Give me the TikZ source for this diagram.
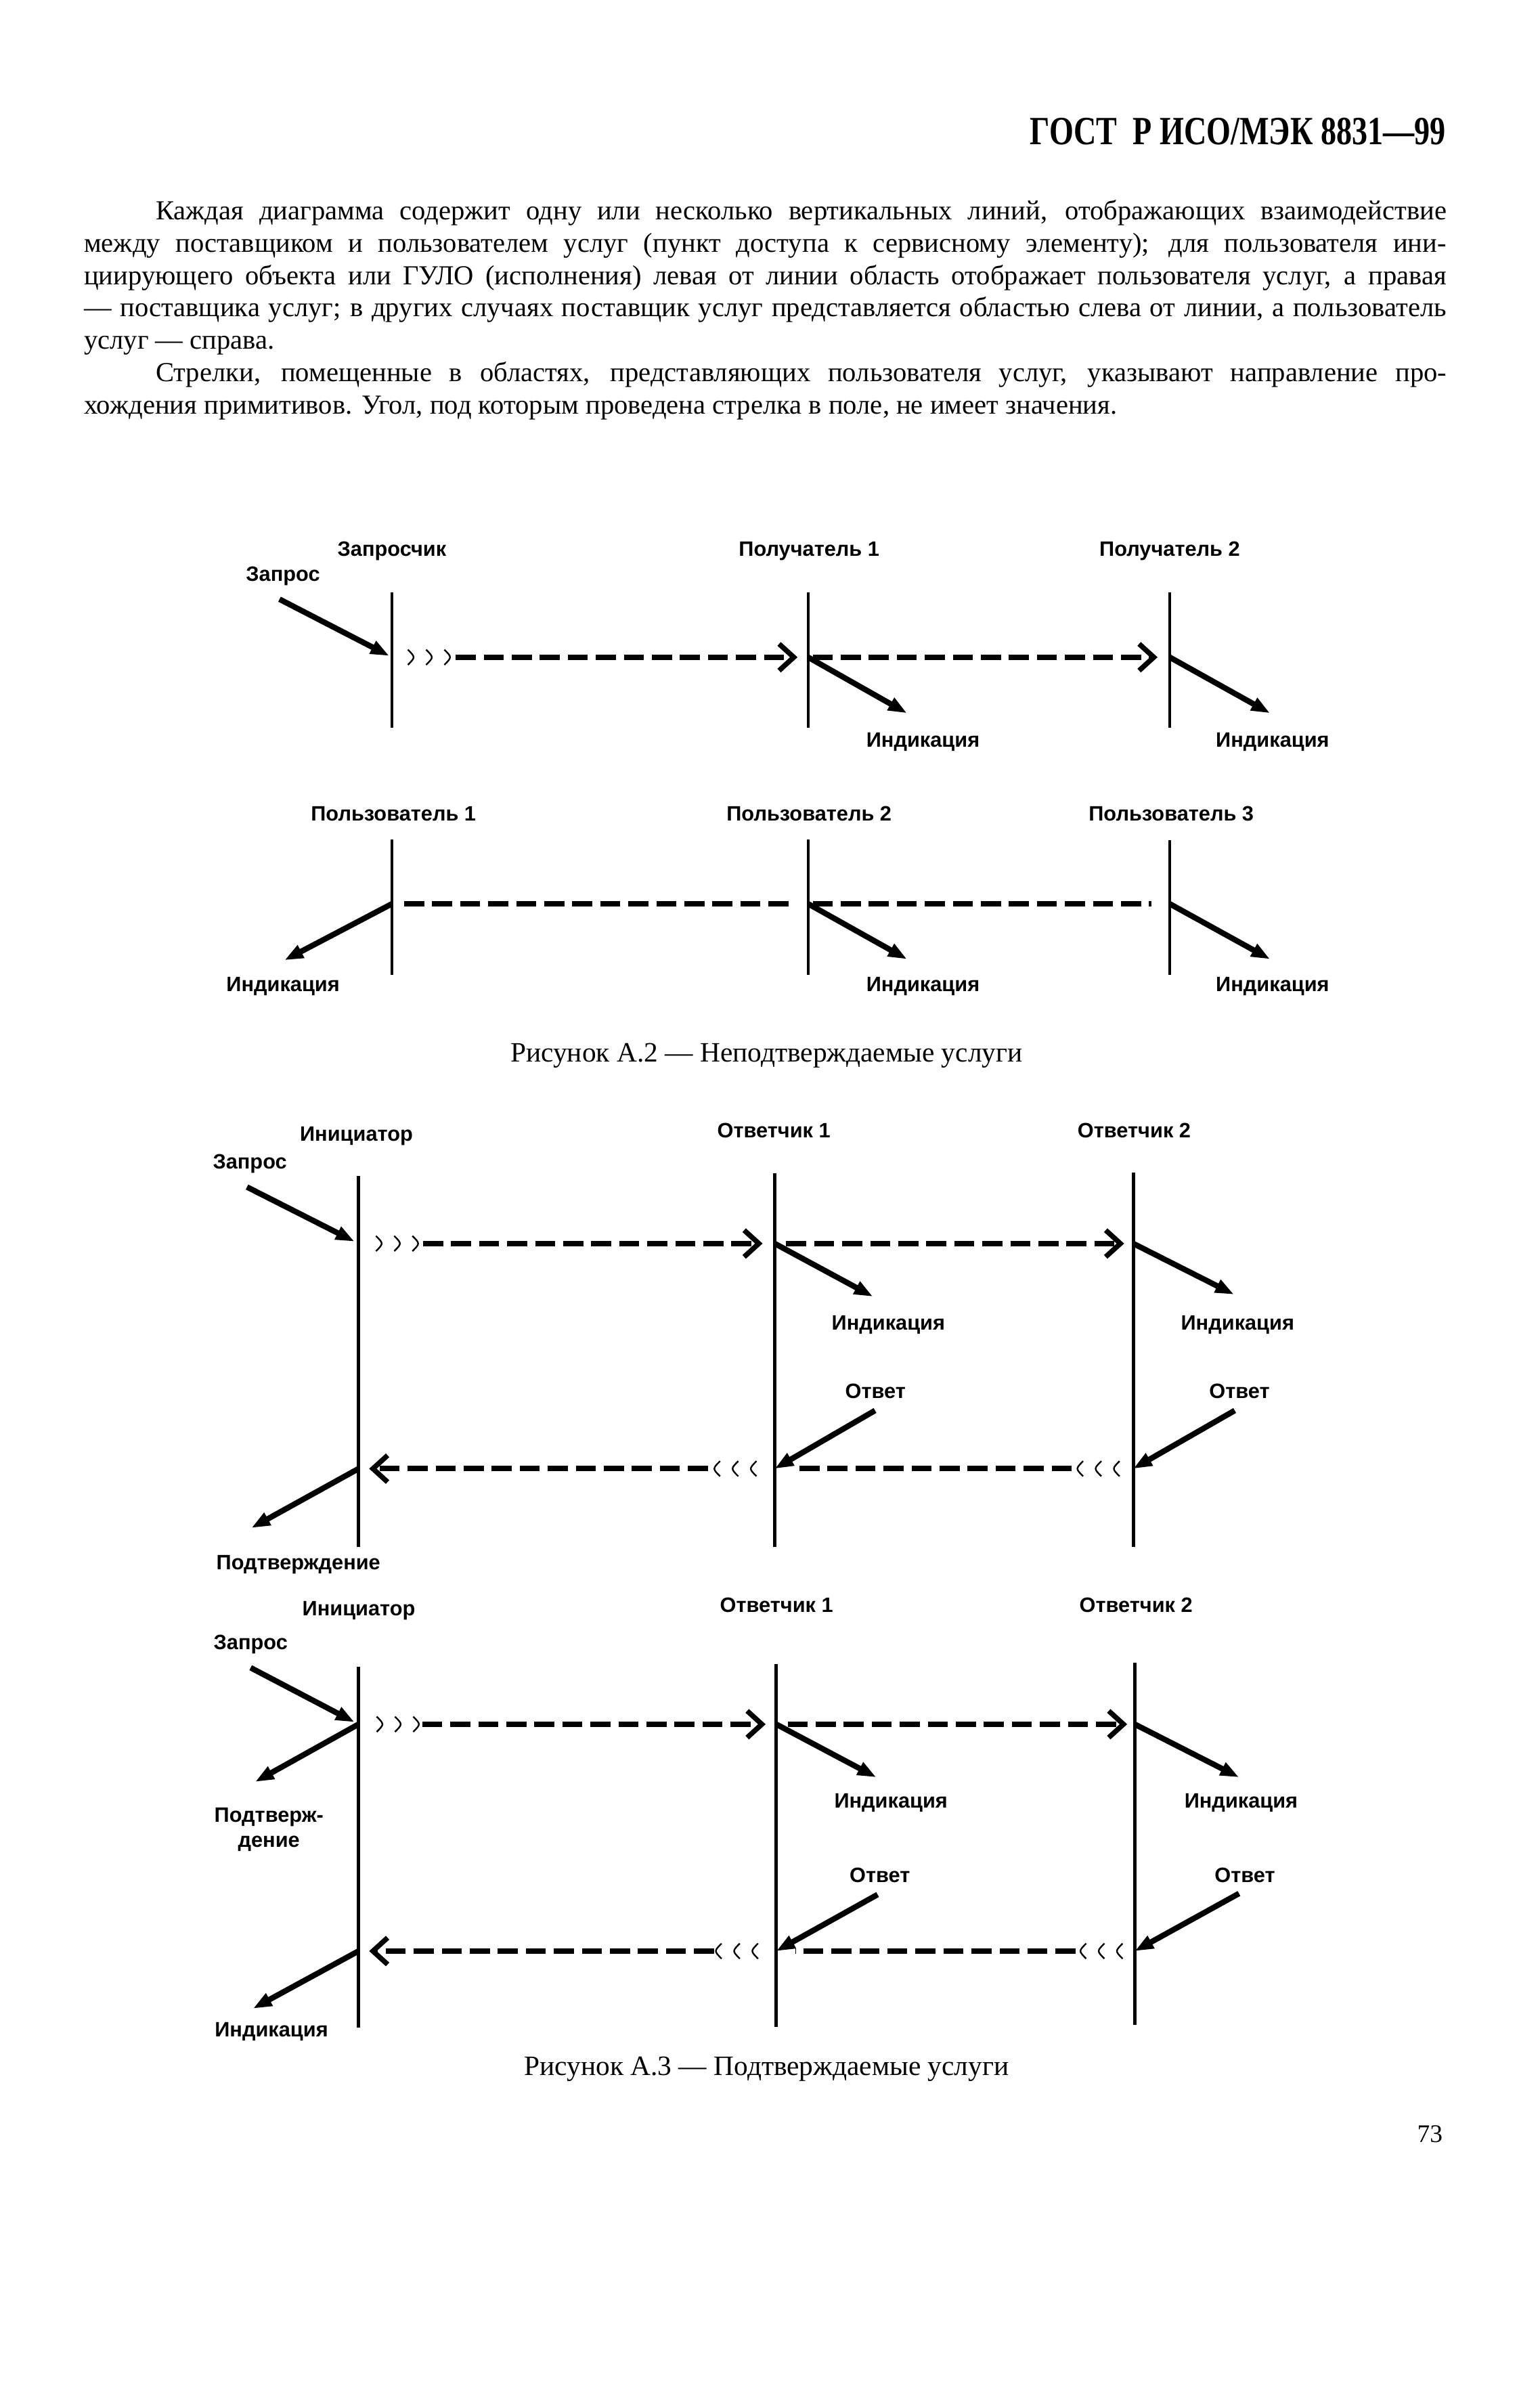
\documentclass[tikz,border=0pt]{standalone}
\usepackage{fontspec}
\setmainfont{Liberation Serif}
\setsansfont{Liberation Sans}
\newfontfamily\headfont[FakeStretch=0.78]{Liberation Serif}
\usetikzlibrary{arrows.meta}

\tikzset{
  lifeline/.style={line width=1.2pt},
  prim/.style={line width=2.1pt, -{Triangle[length=7pt,width=5pt]}},
  flow/.style={line width=2pt, dash pattern=on 7.5pt off 3pt},
  flowhead/.style={flow, -{Straight Barb[length=5.5pt,width=10pt,line width=1.9pt]}},
  wave/.style={line width=0.6pt},
  lbl/.style={font=\sffamily\bfseries\fontsize{7.8}{9.4}\selectfont, inner sep=0pt, anchor=base},
  txt/.style={font=\fontsize{10.3}{12}\selectfont, inner sep=0pt, anchor=base west},
  capt/.style={font=\fontsize{10.5}{12}\selectfont, inner sep=0pt, anchor=base},
}

% three small arcs ))) and (((
\newcommand{\fwdwaves}[2]{\foreach \k in {0,1,2}{\draw[wave] ({#1+12*\k},#2-5) .. controls ({#1+12*\k+5},#2) .. ({#1+12*\k},#2+5);}}
\newcommand{\backwaves}[2]{\foreach \k in {0,1,2}{\draw[wave] ({#1+12*\k},#2-5) .. controls ({#1+12*\k-5},#2) .. ({#1+12*\k},#2+5);}}

\begin{document}
\begin{tikzpicture}[x=0.02cm, y=-0.02cm]
\fill[white, use as bounding box] (0,0) rectangle (1013.4,1567.2);

\def\xl{55}    % left margin
\def\xi{102.2} % indent
\def\xr{952}   % right margin

% page head and text
\node[anchor=base east, inner sep=0pt, font=\headfont\bfseries\fontsize{15}{18}\selectfont] (head) at (\xr,95) {ГОСТ\ \ Р ИСО/МЭК 8831—99};

\node[txt] (pa1) at (\xi,144.8) {\makebox[17cm][s]{Каждая диаграмма содержит одну или несколько вертикальных линий, отображающих взаимодействие}};
\node[txt] (pa2) at (\xl,166.0) {\makebox[17.94cm][s]{между поставщиком и пользователем услуг (пункт доступа к сервисному элементу); для пользователя ини-}};
\node[txt] (pa3) at (\xl,187.3) {\makebox[17.94cm][s]{циирующего объекта или ГУЛО (исполнения) левая от линии область отображает пользователя услуг, а правая}};
\node[txt] (pa4) at (\xl,208.5) {\makebox[17.94cm][s]{— поставщика услуг; в других случаях поставщик услуг представляется областью слева от линии, а пользователь}};
\node[txt] (pa5) at (\xl,229.8) {услуг — справа.};
\node[txt] (pb1) at (\xi,251.0) {\makebox[17cm][s]{Стрелки, помещенные в областях, представляющих пользователя услуг, указывают направление про-}};
\node[txt] (pb2) at (\xl,272.3) {хождения примитивов. Угол, под которым проведена стрелка в поле, не имеет значения.};

% Figure A.2, upper part
\def\ya{432.6}
\coordinate (a1t) at (258,389.9); \coordinate (a1b) at (258,479);
\coordinate (a2t) at (532,389.9); \coordinate (a2b) at (532,479);
\coordinate (a3t) at (770,389.9); \coordinate (a3b) at (770,479);
\coordinate (a1m) at (258,\ya);
\coordinate (a2m) at (532,\ya);
\coordinate (a3m) at (770,\ya);
\coordinate (aq) at (184,394.4);
\coordinate (ai2) at (597,469.4);
\coordinate (ai3) at (836,469.4);

\draw[lifeline] (a1t) -- (a1b);
\draw[lifeline] (a2t) -- (a2b);
\draw[lifeline] (a3t) -- (a3b);

\draw[prim, shorten >=0.04cm] (aq) -- (a1m);
\fwdwaves{268.5}{\ya}
\draw[flowhead, shorten <=0.84cm, shorten >=0.14cm] (a1m) -- (a2m);
\draw[flowhead, shorten <=0.06cm, shorten >=0.16cm] (a2m) -- (a3m);
\draw[prim] (a2m) -- (ai2);
\draw[prim] (a3m) -- (ai3);

\node[lbl] (asend) at (258,366.2) {Запросчик};
\node[lbl] (areq) at (186.3,382.5) {Запрос};
\node[lbl] (arcv1) at (532.6,366.2) {Получатель 1};
\node[lbl] (arcv2) at (770,366.2) {Получатель 2};
\node[lbl] (aind2) at (607.6,491.7) {Индикация};
\node[lbl] (aind3) at (837.7,491.7) {Индикация};

% Figure A.2, lower part
\def\yb{594.9}
\coordinate (b1t) at (258,552.6); \coordinate (b1b) at (258,641.7);
\coordinate (b2t) at (532,552.6); \coordinate (b2b) at (532,641.7);
\coordinate (b3t) at (770,553); \coordinate (b3b) at (770,641.7);
\coordinate (b1m) at (258,\yb);
\coordinate (b2m) at (532,\yb);
\coordinate (b3m) at (770,\yb);
\coordinate (bi1) at (187.3,632);
\coordinate (bi2) at (597,631.3);
\coordinate (bi3) at (836,631.3);

\draw[lifeline] (b1t) -- (b1b);
\draw[lifeline] (b2t) -- (b2b);
\draw[lifeline] (b3t) -- (b3b);

\draw[flow, shorten <=0.16cm, shorten >=0.23cm] (b1m) -- (b2m);
\draw[flow, shorten <=0.06cm, shorten >=0.24cm] (b2m) -- (b3m);
\draw[prim] (b1m) -- (bi1);
\draw[prim] (b2m) -- (bi2);
\draw[prim] (b3m) -- (bi3);

\node[lbl] (busr1) at (259,540.4) {Пользователь 1};
\node[lbl] (busr2) at (532.6,540.4) {Пользователь 2};
\node[lbl] (busr3) at (771,540.4) {Пользователь 3};
\node[lbl] (bind1) at (186.3,652.8) {Индикация};
\node[lbl] (bind2) at (607.6,652.8) {Индикация};
\node[lbl] (bind3) at (837.7,652.8) {Индикация};

\node[capt] (capa) at (504.6,699) {Рисунок А.2 — Неподтверждаемые услуги};

% Figure A.3, upper part
\def\yc{818.5}
\def\ycr{966.7}
\coordinate (c1t) at (236,774); \coordinate (c1b) at (236,1018.2);
\coordinate (c2t) at (510,772.4); \coordinate (c2b) at (510,1018.2);
\coordinate (c3t) at (746,771.7); \coordinate (c3b) at (746,1018.2);
\coordinate (c1m) at (236,\yc);
\coordinate (c2m) at (510,\yc);
\coordinate (c3m) at (746,\yc);
\coordinate (c1r) at (236,\ycr);
\coordinate (c2r) at (510,\ycr);
\coordinate (c3r) at (746,\ycr);
\coordinate (cq) at (162.6,781.3);
\coordinate (ci2) at (574.6,853.4);
\coordinate (ci3) at (812.3,852);
\coordinate (ca2) at (576,928.4);
\coordinate (ca3) at (812.8,928.4);
\coordinate (cc1) at (165.5,1005.7);

\draw[lifeline] (c1t) -- (c1b);
\draw[lifeline] (c2t) -- (c2b);
\draw[lifeline] (c3t) -- (c3b);

\draw[prim, shorten >=0.06cm] (cq) -- (c1m);
\fwdwaves{247.5}{\yc}
\draw[flowhead, shorten <=0.85cm, shorten >=0.16cm] (c1m) -- (c2m);
\draw[flowhead, shorten <=0.15cm, shorten >=0.12cm] (c2m) -- (c3m);
\draw[prim] (c2m) -- (ci2);
\draw[prim] (c3m) -- (ci3);

\draw[prim] (ca2) -- (c2r);
\draw[prim] (ca3) -- (c3r);
\backwaves{474}{\ycr}
\draw[flowhead, shorten <=0.88cm, shorten >=0.14cm] (c2r) -- (c1r);
\backwaves{713}{\ycr}
\draw[flow, shorten <=0.81cm, shorten >=0.24cm] (c3r) -- (c2r);
\draw[prim] (c1r) -- (cc1);

\node[lbl] (cinit) at (234.6,750.9) {Инициатор};
\node[lbl] (creq) at (164.5,769.5) {Запрос};
\node[lbl] (cans1) at (509.4,748.7) {Ответчик 1};
\node[lbl] (cans2) at (746.6,748.7) {Ответчик 2};
\node[lbl] (cind2) at (584.8,875.6) {Индикация};
\node[lbl] (cind3) at (814.7,875.6) {Индикация};
\node[lbl] (cresp2) at (576.3,920.2) {Ответ};
\node[lbl] (cresp3) at (815.9,920.2) {Ответ};
\node[lbl] (cconf) at (196.4,1033) {Подтверждение};

% Figure A.3, lower part
\def\yd{1134.9}
\def\ydr{1284.2}
\coordinate (d1t) at (236,1097); \coordinate (d1b) at (236,1334.7);
\coordinate (d2t) at (511,1095.5); \coordinate (d2b) at (511,1334);
\coordinate (d3t) at (747,1094.5); \coordinate (d3b) at (747,1333);
\coordinate (d1m) at (236,\yd);
\coordinate (d2m) at (511,\yd);
\coordinate (d3m) at (747,\yd);
\coordinate (d1r) at (236,\ydr);
\coordinate (d2r) at (511,\ydr);
\coordinate (d3r) at (747,\ydr);
\coordinate (dq) at (165,1097.7);
\coordinate (dc1) at (168,1172.8);
\coordinate (di2) at (576.8,1169.8);
\coordinate (di3) at (815.6,1169.8);
\coordinate (da2) at (577.7,1247);
\coordinate (da3) at (815.6,1246.3);
\coordinate (di1) at (166.6,1322);

\draw[lifeline] (d1t) -- (d1b);
\draw[lifeline] (d2t) -- (d2b);
\draw[lifeline] (d3t) -- (d3b);

\draw[prim, shorten >=0.06cm] (dq) -- (d1m);
\draw[prim] (d1m) -- (dc1);
\fwdwaves{248}{\yd}
\draw[flowhead, shorten <=0.84cm, shorten >=0.14cm] (d1m) -- (d2m);
\draw[flowhead, shorten <=0.15cm, shorten >=0.1cm] (d2m) -- (d3m);
\draw[prim] (d2m) -- (di2);
\draw[prim] (d3m) -- (di3);

\draw[prim] (da2) -- (d2r);
\draw[prim] (da3) -- (d3r);
\backwaves{475}{\ydr}
\draw[flowhead, shorten <=0.82cm, shorten >=0.14cm] (d2r) -- (d1r);
\backwaves{715}{\ydr}
\draw[flow, shorten <=0.78cm, shorten >=0.25cm] (d3r) -- (d2r);
\draw[prim] (d1r) -- (di1);

\node[lbl] (dinit) at (236.2,1063.6) {Инициатор};
\node[lbl] (dreq) at (165,1085.9) {Запрос};
\node[lbl] (dans1) at (511.2,1061) {Ответчик 1};
\node[lbl] (dans2) at (747.8,1061) {Ответчик 2};
\node[lbl] (dconfa) at (177,1199.5) {Подтверж-};
\node[lbl] (dconfb) at (177,1215.8) {дение};
\node[lbl] (dind2) at (586.5,1189.8) {Индикация};
\node[lbl] (dind3) at (817,1189.8) {Индикация};
\node[lbl] (dresp2) at (579.2,1238.9) {Ответ};
\node[lbl] (dresp3) at (819.5,1238.9) {Ответ};
\node[lbl] (dind1) at (178.7,1340.6) {Индикация};

\node[capt] (capb) at (504.6,1366) {Рисунок А.3 — Подтверждаемые услуги};

\node[anchor=base east, inner sep=0pt, font=\fontsize{9.5}{11}\selectfont] (pnum) at (950,1410.3) {73};

\end{tikzpicture}
\end{document}
